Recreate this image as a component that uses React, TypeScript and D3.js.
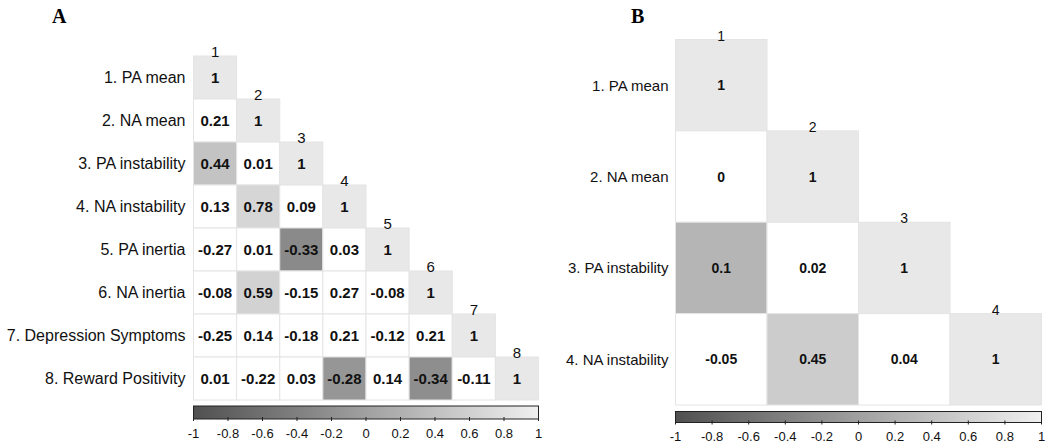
import React from "react";
import * as d3 from "d3";

// ---------- DATA ----------
const labelsA = [
  "1. PA mean",
  "2. NA mean",
  "3. PA instability",
  "4. NA instability",
  "5. PA inertia",
  "6. NA inertia",
  "7. Depression Symptoms",
  "8. Reward Positivity",
];
const valuesA: number[][] = [
  [1],
  [0.21, 1],
  [0.44, 0.01, 1],
  [0.13, 0.78, 0.09, 1],
  [-0.27, 0.01, -0.33, 0.03, 1],
  [-0.08, 0.59, -0.15, 0.27, -0.08, 1],
  [-0.25, 0.14, -0.18, 0.21, -0.12, 0.21, 1],
  [0.01, -0.22, 0.03, -0.28, 0.14, -0.34, -0.11, 1],
];
// shade of each cell on the colour bar (null = white cell)
const shadeA: (number | null)[][] = [
  [0.9],
  [null, 0.9],
  [0.44, null, 0.9],
  [null, 0.68, null, 0.9],
  [null, null, -0.28, null, 0.9],
  [null, 0.62, null, null, null, 0.9],
  [null, null, null, null, null, null, 0.9],
  [null, null, null, -0.12, null, -0.22, null, 0.9],
];

const labelsB = ["1. PA mean", "2. NA mean", "3. PA instability", "4. NA instability"];
const valuesB: number[][] = [
  [1],
  [0, 1],
  [0.1, 0.02, 1],
  [-0.05, 0.45, 0.04, 1],
];
const shadeB: (number | null)[][] = [
  [0.9],
  [null, 0.9],
  [0.26, null, 0.9],
  [null, 0.55, null, 0.9],
];

const colorbarTicks = [-1, -0.8, -0.6, -0.4, -0.2, 0, 0.2, 0.4, 0.6, 0.8, 1];

// ---------- STYLE ----------
const FONT = "'Liberation Sans', Arial, Helvetica, sans-serif";
const grayScale = d3.scaleLinear<string>().domain([-1, 1]).range(["#505050", "#f0f0f0"]);

interface PanelCfg {
  id: string;
  letter: string;
  letterX: number;
  letterY: number;
  labels: string[];
  values: number[][];
  shades: (number | null)[][];
  x0: number;
  x1: number;
  y0: number;
  y1: number;
  labelGap: number;
  labelSize: number;
  valueSize: number;
  colSize: number;
  cbTop: number;
  cbBottom: number;
  cbLabelY: number;
  cbLabelSize: number;
}

function Panel({ cfg }: { cfg: PanelCfg }) {
  const n = cfg.labels.length;
  const idx = d3.range(n).map(String);
  const x = d3.scaleBand<string>().domain(idx).range([cfg.x0, cfg.x1]).padding(0);
  const y = d3.scaleBand<string>().domain(idx).range([cfg.y0, cfg.y1]).padding(0);
  const cb = d3.scaleLinear().domain([-1, 1]).range([cfg.x0, cfg.x1]);
  const gradId = "grad-" + cfg.id;
  const cells: { r: number; c: number; v: number; s: number | null }[] = [];
  cfg.values.forEach((row, r) =>
    row.forEach((v, c) => cells.push({ r, c, v, s: cfg.shades[r][c] }))
  );
  const bw = x.bandwidth();
  const bh = y.bandwidth();
  return (
    <g>
      <defs>
        <linearGradient id={gradId} x1="0" x2="1" y1="0" y2="0">
          {[-1, -0.5, 0, 0.5, 1].map((t) => (
            <stop key={t} offset={(t + 1) / 2} stopColor={grayScale(t)} />
          ))}
        </linearGradient>
      </defs>
      <text
        x={cfg.letterX}
        y={cfg.letterY}
        fontFamily="'Liberation Serif', 'Times New Roman', serif"
        fontWeight="bold"
        fontSize={20}
      >
        {cfg.letter}
      </text>
      {cells.map((d) => (
        <rect
          key={`${d.r}-${d.c}`}
          x={x(String(d.c))}
          y={y(String(d.r))}
          width={bw}
          height={bh}
          fill={d.s === null ? "#ffffff" : grayScale(d.s)}
          stroke="#e4e4e4"
          strokeWidth={1}
        />
      ))}
      {cells.map((d) => (
        <text
          key={`t-${d.r}-${d.c}`}
          x={(x(String(d.c)) as number) + bw / 2}
          y={(y(String(d.r)) as number) + bh / 2}
          dy="0.36em"
          textAnchor="middle"
          fontFamily={FONT}
          fontWeight="bold"
          fontSize={cfg.valueSize}
          fill="#111"
        >
          {String(d.v)}
        </text>
      ))}
      {cfg.labels.map((l, i) => (
        <text
          key={`l-${i}`}
          x={cfg.x0 - cfg.labelGap}
          y={(y(String(i)) as number) + bh / 2}
          dy="0.36em"
          textAnchor="end"
          fontFamily={FONT}
          fontSize={cfg.labelSize}
          fill="#111"
        >
          {l}
        </text>
      ))}
      {cfg.labels.map((_, i) => (
        <text
          key={`c-${i}`}
          x={(x(String(i)) as number) + bw / 2}
          y={(y(String(i)) as number) + 1}
          textAnchor="middle"
          fontFamily={FONT}
          fontSize={cfg.colSize}
          fill="#111"
        >
          {i + 1}
        </text>
      ))}
      <rect
        x={cfg.x0}
        y={cfg.cbTop}
        width={cfg.x1 - cfg.x0}
        height={cfg.cbBottom - cfg.cbTop}
        fill={`url(#${gradId})`}
        stroke="#222"
        strokeWidth={1}
      />
      {colorbarTicks.map((t) => (
        <g key={`cb-${t}`}>
          <line
            x1={cb(t)}
            x2={cb(t)}
            y1={cfg.cbBottom - 2}
            y2={cfg.cbBottom + 2}
            stroke="#222"
            strokeWidth={1}
          />
          <text
            x={cb(t)}
            y={cfg.cbLabelY}
            dy="0.36em"
            textAnchor="middle"
            fontFamily={FONT}
            fontSize={cfg.cbLabelSize}
            fill="#111"
          >
            {String(t)}
          </text>
        </g>
      ))}
    </g>
  );
}

const panelA: PanelCfg = {
  id: "A",
  letter: "A",
  letterX: 52,
  letterY: 23,
  labels: labelsA,
  values: valuesA,
  shades: shadeA,
  x0: 193.5,
  x1: 538.5,
  y0: 56,
  y1: 400,
  labelGap: 8,
  labelSize: 16,
  valueSize: 15,
  colSize: 15,
  cbTop: 406,
  cbBottom: 419,
  cbLabelY: 433,
  cbLabelSize: 13,
};

const panelB: PanelCfg = {
  id: "B",
  letter: "B",
  letterX: 631,
  letterY: 23,
  labels: labelsB,
  values: valuesB,
  shades: shadeB,
  x0: 675.5,
  x1: 1041.5,
  y0: 39.5,
  y1: 405,
  labelGap: 7,
  labelSize: 15,
  valueSize: 14,
  colSize: 14,
  cbTop: 411.5,
  cbBottom: 422.5,
  cbLabelY: 436.5,
  cbLabelSize: 13,
};

export default function App() {
  return (
    <svg
      width={1050}
      height={447}
      viewBox="0 0 1050 447"
      style={{ position: "absolute", left: 0, top: 0, background: "#fff" }}
    >
      <rect x={0} y={0} width={1050} height={447} fill="#fff" />
      <Panel cfg={panelA} />
      <Panel cfg={panelB} />
    </svg>
  );
}
